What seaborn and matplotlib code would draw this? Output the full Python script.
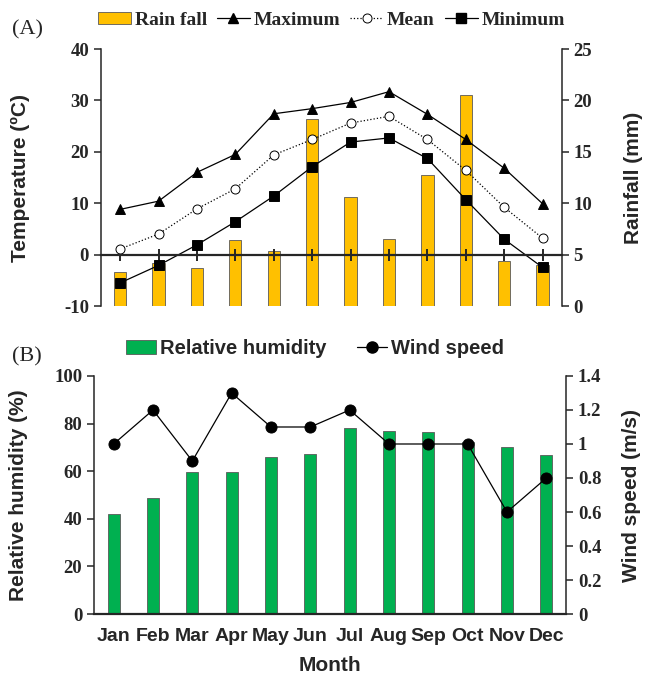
import numpy as np
import matplotlib
matplotlib.use("Agg")
import matplotlib.pyplot as plt
from matplotlib.patches import Patch
from matplotlib.lines import Line2D
import seaborn as sns

# --- data ---
months = ["Jan", "Feb", "Mar", "Apr", "May", "Jun", "Jul", "Aug", "Sep", "Oct", "Nov", "Dec"]
rain = [3.3, 4.2, 3.7, 6.4, 5.4, 18.2, 10.6, 6.5, 12.7, 20.5, 4.4, 4.0]
t_max = [8.8, 10.4, 16.0, 19.5, 27.4, 28.4, 29.6, 31.7, 27.3, 22.4, 16.8, 9.9]
t_mean = [1.1, 4.0, 8.9, 12.8, 19.4, 22.4, 25.6, 26.9, 22.4, 16.4, 9.2, 3.2]
t_min = [-5.5, -2.1, 1.9, 6.4, 11.4, 17.1, 21.9, 22.7, 18.7, 10.7, 3.0, -2.5]
humidity = [42.0, 48.6, 59.6, 59.6, 65.9, 67.1, 78.2, 76.8, 76.4, 72.4, 70.2, 66.6]
wind = [1.0, 1.2, 0.9, 1.3, 1.1, 1.1, 1.2, 1.0, 1.0, 1.0, 0.6, 0.8]

temp_ticks = [-10, 0, 10, 20, 30, 40]
rain_ticks = [0, 5, 10, 15, 20, 25]
rh_ticks = [0, 20, 40, 60, 80, 100]
wind_ticks = [0, 0.2, 0.4, 0.6, 0.8, 1.0, 1.2, 1.4]

sns.set_style("ticks")
plt.rcParams["font.family"] = ["Liberation Sans", "DejaVu Sans"]
plt.rcParams["axes.unicode_minus"] = False

SERIF = ["Liberation Serif", "DejaVu Serif"]
SANS = ["Liberation Sans", "DejaVu Sans"]
YELLOW = "#FFC000"
GREEN = "#00B050"
EDGE = "#595959"
num_font = {"family": SERIF, "weight": "bold", "size": 13.5}

fig = plt.figure(figsize=(6.51, 6.76), dpi=100)

# ---------------- (A) temperature + rainfall ----------------
axA = fig.add_axes([0.155, 0.5473, 0.708, 0.3802])
axA2 = axA.twinx()

sns.barplot(x=months, y=rain, ax=axA2, color=YELLOW, saturation=1, width=0.32,
            edgecolor=EDGE, linewidth=0.6)
sns.pointplot(x=months, y=t_max, ax=axA, color="black", markers="^", linestyles="-",
              errorbar=None, markersize=7, linewidth=0.9)
sns.pointplot(x=months, y=t_mean, ax=axA, color="black", markers="o", linestyles=":",
              errorbar=None, markersize=6.5, linewidth=0.9, markerfacecolor="white",
              markeredgewidth=0.7)
sns.pointplot(x=months, y=t_min, ax=axA, color="black", markers="s", linestyles="-",
              errorbar=None, markersize=6.5, linewidth=0.9)

axA.set_zorder(axA2.get_zorder() + 1)
axA.patch.set_visible(False)

axA.set_xlim(-0.5, 11.5)
axA.set_ylim(-10, 40)
axA.set_yticks(temp_ticks)
axA.set_yticklabels([str(v) for v in temp_ticks], fontdict=num_font)
axA2.set_ylim(0, 25)
axA2.set_yticks(rain_ticks)
axA2.set_yticklabels([str(v) for v in rain_ticks], fontdict=num_font)

for s in ["top", "right"]:
    axA.spines[s].set_visible(False)
axA.spines["bottom"].set_position(("data", 0))
axA.spines["bottom"].set_linewidth(1.6)
axA.spines["left"].set_linewidth(1.1)
for s in ["top", "left", "bottom"]:
    axA2.spines[s].set_visible(False)
axA2.spines["right"].set_linewidth(1.1)

axA.tick_params(axis="x", direction="inout", length=8, width=1.4, labelbottom=False)
axA.tick_params(axis="y", direction="out", length=5, width=1.1)
axA2.tick_params(axis="y", direction="out", length=5, width=1.1)

axA.set_xlabel("")
axA.set_ylabel("Temperature (ºC)", fontsize=15, fontweight="bold")
axA.yaxis.set_label_coords(-0.153, 0.5)
axA2.set_ylabel("Rainfall (mm)", fontsize=15, fontweight="bold")
axA2.yaxis.set_label_coords(1.134, 0.5)

handlesA = [
    Patch(facecolor=YELLOW, edgecolor=EDGE, linewidth=0.6),
    Line2D([], [], color="black", marker="^", lw=0.9, ms=7),
    Line2D([], [], color="black", marker="o", ls=":", lw=0.9, ms=6.5, mfc="white", mew=0.7),
    Line2D([], [], color="black", marker="s", lw=0.9, ms=6.5),
]
fig.legend(handlesA, ["Rain fall", "Maximum", "Mean", "Minimum"], loc="center",
           bbox_to_anchor=(0.509, 0.970), ncol=4, frameon=False,
           prop={"family": SERIF, "weight": "bold", "size": 14},
           handlelength=1.7, handleheight=0.6, handletextpad=0.2, columnspacing=0.5)
fig.text(0.018, 1 - 30 / 676, "(A)", fontfamily=SERIF, fontsize=16, va="center")

# ---------------- (B) humidity + wind speed ----------------
axB = fig.add_axes([0.1444, 0.0917, 0.725, 0.3521])
axB2 = axB.twinx()

sns.barplot(x=months, y=humidity, ax=axB, color=GREEN, saturation=1, width=0.30,
            edgecolor=EDGE, linewidth=0.6)
sns.pointplot(x=months, y=wind, ax=axB2, color="black", markers="o", linestyles="-",
              errorbar=None, markersize=8, linewidth=0.9)

axB.set_xlim(-0.5, 11.5)
axB.set_ylim(0, 100)
axB.set_yticks(rh_ticks)
axB.set_yticklabels([str(v) for v in rh_ticks], fontdict=num_font)
axB2.set_ylim(0, 1.4)
axB2.set_yticks(wind_ticks)
axB2.set_yticklabels([f"{v:g}" for v in wind_ticks], fontdict=num_font)
axB.set_xticks(range(len(months)))
axB.set_xticklabels(months, fontdict={"family": SANS, "weight": "bold", "size": 14})

for s in ["top", "right"]:
    axB.spines[s].set_visible(False)
for s in ["top", "left", "bottom"]:
    axB2.spines[s].set_visible(False)
axB.spines["bottom"].set_linewidth(1.6)
axB.spines["left"].set_linewidth(1.1)
axB2.spines["right"].set_linewidth(1.1)

axB.tick_params(axis="x", length=0, pad=10)
axB.tick_params(axis="y", direction="out", length=5, width=1.1)
axB2.tick_params(axis="y", direction="out", length=5, width=1.1)

axB.set_xlabel("Month", fontsize=15, fontweight="bold", labelpad=8)
axB.set_ylabel("Relative humidity (%)", fontsize=15, fontweight="bold")
axB.yaxis.set_label_coords(-0.139, 0.5)
axB2.set_ylabel("Wind speed (m/s)", fontsize=15, fontweight="bold")
axB2.yaxis.set_label_coords(1.119, 0.5)

handlesB = [
    Patch(facecolor=GREEN, edgecolor=EDGE, linewidth=0.6),
    Line2D([], [], color="black", marker="o", lw=0.9, ms=8),
]
fig.legend(handlesB, ["Relative humidity", "Wind speed"], loc="center",
           bbox_to_anchor=(0.484, 0.484), ncol=2, frameon=False,
           prop={"family": SANS, "weight": "bold", "size": 14.5},
           handlelength=1.5, handletextpad=0.2, columnspacing=1.5)
fig.text(0.018, 1 - 357 / 676, "(B)", fontfamily=SERIF, fontsize=16, va="center")

fig.savefig("out.png", dpi=100)
